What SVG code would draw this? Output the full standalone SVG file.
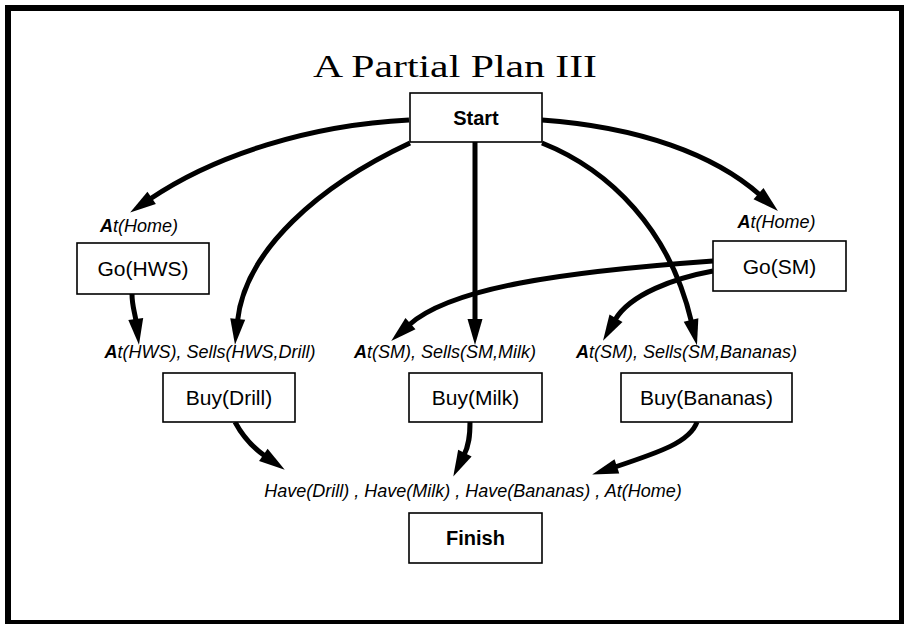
<svg xmlns="http://www.w3.org/2000/svg" width="904" height="624" viewBox="0 0 904 624">
  <style>
    .frame { fill: #fff; stroke: #000; stroke-width: 6; }
    .box { fill: #fff; stroke: #000; stroke-width: 1.6; }
    .title { font-family: "Liberation Serif", "DejaVu Serif", serif; font-size: 32px; fill: #000; }
    .op { font-family: "Liberation Sans", Arial, sans-serif; font-size: 21px; fill: #000; text-anchor: middle; }
    .opb { font-family: "Liberation Sans", Arial, sans-serif; font-size: 20px; font-weight: bold; fill: #000; text-anchor: middle; }
    .cond { font-family: "Liberation Sans", Arial, sans-serif; font-size: 18px; font-style: italic; fill: #000; text-anchor: middle; }
    .cond .b { font-weight: bold; }
    .edge { fill: none; stroke: #000; stroke-width: 5; marker-end: url(#head); }
  </style>
  <defs>
    <marker id="head" markerUnits="userSpaceOnUse" viewBox="0 -8 27 16" markerWidth="27" markerHeight="16" refX="2" refY="0" orient="auto" overflow="visible">
      <path d="M0,-7.5 L26,0 L0,7.5 z" fill="#000"/>
    </marker>
  </defs>

  <rect class="frame" x="8" y="8" width="894" height="615"/>

  <text class="title" x="313" y="77" textLength="284" lengthAdjust="spacingAndGlyphs">A Partial Plan III</text>

  <!-- causal links and ordering -->
  <g id="connectors">
    <path class="edge" d="M409,120 C310,125 215,155 150,199"/>
    <path class="edge" d="M542,120 C640,127 715,155 760,195"/>
    <path class="edge" d="M410,143 C320,185 245,250 237.5,321"/>
    <path class="edge" d="M475,142 L475,321"/>
    <path class="edge" d="M542,143 C610,170 670,230 691.5,322"/>
    <path class="edge" d="M713,261 C560,272 450,288 409,325"/>
    <path class="edge" d="M713,271 C675,278 630,294 615,320"/>
    <path class="edge" d="M132,294 C132,306 135,313 136,321"/>
    <path class="edge" d="M235,422 C242,435 252,447 265,456"/>
    <path class="edge" d="M470,422 C470,436 469,445 464,455"/>
    <path class="edge" d="M697,422 C690,442 660,452 615,467"/>
  </g>

  <g id="start">
    <rect class="box" x="410" y="93" width="132" height="49"/>
    <text class="opb" x="476" y="125">Start</text>
  </g>

  <g id="go-hws">
    <text class="cond" x="139" y="232"><tspan class="b">A</tspan>t(Home)</text>
    <rect class="box" x="77" y="243" width="132" height="51"/>
    <text class="op" x="143" y="276">Go(HWS)</text>
  </g>

  <g id="go-sm">
    <text class="cond" x="776.5" y="228"><tspan class="b">A</tspan>t(Home)</text>
    <rect class="box" x="713" y="241" width="133" height="50"/>
    <text class="op" x="779.5" y="274">Go(SM)</text>
  </g>

  <g id="buy-drill">
    <text class="cond" x="210" y="358"><tspan class="b">A</tspan>t(HWS), Sells(HWS,Drill)</text>
    <rect class="box" x="163" y="373" width="132" height="49"/>
    <text class="op" x="229" y="405">Buy(Drill)</text>
  </g>

  <g id="buy-milk">
    <text class="cond" x="445" y="358"><tspan class="b">A</tspan>t(SM), Sells(SM,Milk)</text>
    <rect class="box" x="409" y="373" width="133" height="49"/>
    <text class="op" x="475.5" y="405">Buy(Milk)</text>
  </g>

  <g id="buy-bananas">
    <text class="cond" x="686.5" y="358"><tspan class="b">A</tspan>t(SM), Sells(SM,Bananas)</text>
    <rect class="box" x="621" y="373" width="171" height="49"/>
    <text class="op" x="706.5" y="405">Buy(Bananas)</text>
  </g>

  <g id="finish">
    <text class="cond" x="473" y="497">Have(Drill) , Have(Milk) , Have(Bananas) , At(Home)</text>
    <rect class="box" x="409" y="513" width="133" height="50"/>
    <text class="opb" x="475.5" y="545">Finish</text>
  </g>
</svg>
